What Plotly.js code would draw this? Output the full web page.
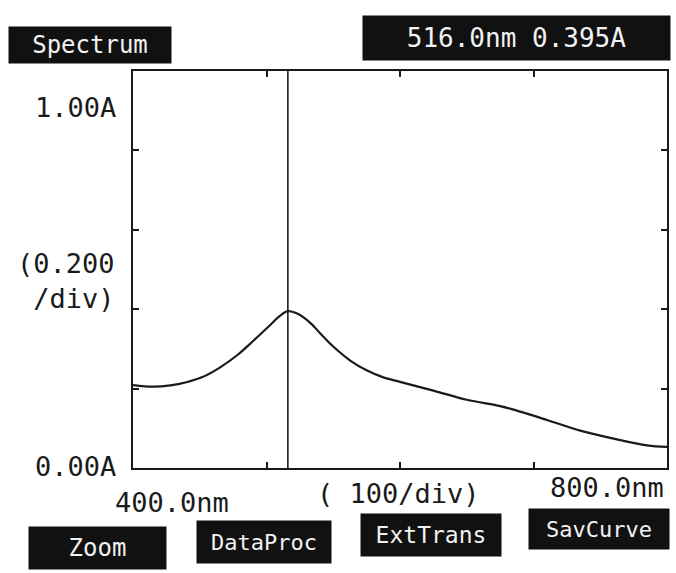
<!DOCTYPE html>
<html>
<head>
<meta charset="utf-8">
<script src="https://cdn.plot.ly/plotly-3.0.1.min.js"></script>
<style>html,body{margin:0;padding:0;background:#fff;}#chart{width:676px;height:573px;}</style>
</head>
<body>
<div id="chart"></div>
<script>
// Absorbance spectrum
const wavelength = [400,415,428,440,452,465,478,490,503,510,516,523,533,540,550,563,575,587,600,625,650,675,685,710,735,760,785,800];
const absorbance = [0.209,0.205,0.208,0.216,0.229,0.253,0.284,0.320,0.361,0.383,0.395,0.389,0.365,0.340,0.306,0.270,0.246,0.229,0.217,0.195,0.172,0.156,0.147,0.121,0.094,0.074,0.057,0.053];
const cursorWavelength = 516.0;
const cursorAbs = 0.395;
const headerLeft = "Spectrum";
const headerRight = "516.0nm 0.395A";
const yLabels = ["1.00A", "(0.200<br>\u00a0/div)", "0.00A"];
const xLabels = ["400.0nm", "( 100/div)", "800.0nm"];
const buttons = ["Zoom", "DataProc", "ExtTrans", "SavCurve"];

const mono = "DejaVu Sans Mono";
const ink = "#1a1a1a";

const trace = {
  x: wavelength, y: absorbance, type: "scatter", mode: "lines",
  line: {color: ink, width: 2.2, shape: "spline", smoothing: 1.0},
  hoverinfo: "skip"
};

function box(text, x, y, w, h, size) {
  return {text: text, xref: "paper", yref: "paper", x: x, y: y, xanchor: "center", yanchor: "middle",
    showarrow: false, bgcolor: "#111", width: w, height: h,
    font: {family: mono, size: size, color: "#f2f2f2"}};
}
function label(text, x, y, xa, size, align) {
  return {text: text, xref: "paper", yref: "paper", x: x, y: y, xanchor: xa, yanchor: "middle",
    showarrow: false, align: align || "center", font: {family: mono, size: size, color: ink}};
}

const annotations = [
  box(headerLeft, -0.0805, 1.0655, 160, 34, 24),
  box(headerRight, 0.719, 1.083, 305, 42, 26),
  box(buttons[0], -0.0674, -0.2015, 135, 40, 24),
  box(buttons[1], 0.245, -0.186, 132, 40, 22),
  box(buttons[2], 0.558, -0.169, 138, 40, 23),
  box(buttons[3], 0.873, -0.154, 138, 38, 22),
  label(yLabels[0], -0.028, 0.907, "right", 27),
  label(yLabels[1], -0.221, 0.47, "left", 27, "left"),
  label(yLabels[2], -0.028, 0.004, "right", 27),
  label(xLabels[0], 0.073, -0.088, "center", 27),
  label(xLabels[1], 0.497, -0.063, "center", 27),
  label(xLabels[2], 0.887, -0.048, "center", 27)
];

const layout = {
  width: 676, height: 573,
  margin: {l: 133, r: 9, t: 71, b: 105},
  paper_bgcolor: "#fff", plot_bgcolor: "#fff",
  showlegend: false,
  xaxis: {range: [400, 800], dtick: 100, tick0: 400, showticklabels: false, showgrid: false, zeroline: false,
    showline: true, linecolor: ink, linewidth: 2, mirror: "ticks", ticks: "inside", ticklen: 6, tickwidth: 2, tickcolor: ink},
  yaxis: {range: [0, 1], dtick: 0.2, tick0: 0, showticklabels: false, showgrid: false, zeroline: false,
    showline: true, linecolor: ink, linewidth: 2, mirror: "ticks", ticks: "inside", ticklen: 6, tickwidth: 2, tickcolor: ink},
  shapes: [{type: "line", xref: "x", yref: "paper", x0: cursorWavelength, x1: cursorWavelength, y0: 0, y1: 1,
    line: {color: ink, width: 1.6}}],
  annotations: annotations
};

Plotly.newPlot("chart", [trace], layout, {staticPlot: true, displayModeBar: false});
</script>
</body>
</html>
